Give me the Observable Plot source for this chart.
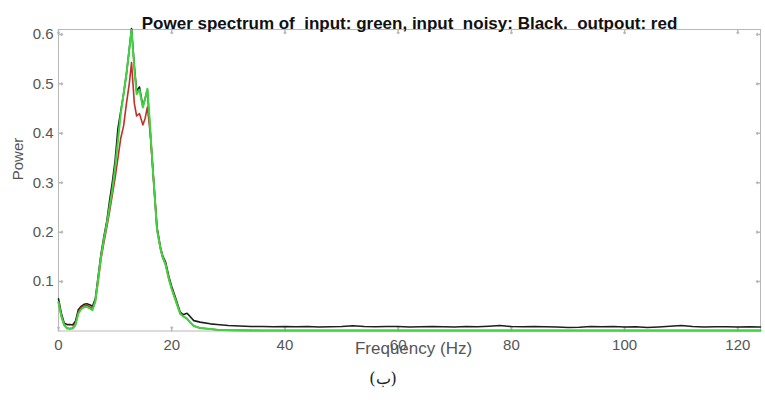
<!DOCTYPE html>
<html>
<head>
<meta charset="utf-8">
<script src="https://cdn.jsdelivr.net/npm/d3@7"></script>
<script src="https://cdn.jsdelivr.net/npm/@observablehq/plot@0.6"></script>
<style>
  body { margin: 0; background: #fff; }
  #wrap { position: relative; width: 765px; height: 407px; }
  #cap { position: absolute; top: 369px; left: 383px; transform: translateX(-50%); font-family: "DejaVu Serif", serif; font-size: 16px; color: #222; }
</style>
</head>
<body>
<div id="wrap"><div id="chart"></div><div id="cap" dir="rtl">(ب)</div></div>
<script>
const titleText = "Power spectrum of  input: green, input  noisy: Black.  outpout: red";
const xLabel = "Frequency (Hz)";
const yLabel = "Power";
const xTicks = [0, 20, 40, 60, 80, 100, 120];
const yTicks = [0.1, 0.2, 0.3, 0.4, 0.5, 0.6];

const freqHead = [0,0.5,1,1.5,2,2.5,3,3.5,4,4.5,5,5.5,6,6.5,7,7.5,8,8.5,9,9.5,10,10.5,11,11.5,12,12.5,12.9,13.4,13.8,14.3,14.9,15.3,15.7,16.2,16.7,17.4,18,18.4,18.9,19.5,20,20.6,21.5,22,22.7,23.2,23.9,25,26.8,28];
const freqTail = [30,32,34,36,38,40,42,44,46,48,50,52,54,56,58,60,62,64,66,68,70,72,74,76,78,80,82,84,86,88,90,92,94,96,98,100,102,104,106,108,110,112,114,116,118,120,122,124];
const freqs = freqHead.concat(freqTail);

// input (green)
const inputPower = [0.058,0.03,0.012,0.005,0.004,0.005,0.012,0.035,0.044,0.048,0.049,0.046,0.042,0.06,0.105,0.15,0.185,0.215,0.25,0.285,0.33,0.385,0.44,0.48,0.52,0.57,0.609,0.53,0.479,0.488,0.452,0.47,0.49,0.41,0.32,0.205,0.168,0.15,0.135,0.105,0.085,0.065,0.035,0.03,0.025,0.018,0.01,0.006,0.004,0.0025,
  0.0015,0.0013,0.0012,0.0011,0.001,0.001,0.001,0.001,0.001,0.001,0.001,0.001,0.001,0.001,0.001,0.001,0.001,0.001,0.001,0.001,0.001,0.001,0.001,0.001,0.001,0.001,0.001,0.001,0.001,0.001,0.001,0.001,0.001,0.001,0.001,0.001,0.001,0.001,0.001,0.001,0.001,0.001,0.001,0.001,0.001,0.001,0.001,0.001];
// output (red)
const outputPower = [0.058,0.03,0.012,0.006,0.005,0.006,0.014,0.038,0.047,0.051,0.052,0.049,0.045,0.06,0.1,0.145,0.178,0.208,0.24,0.275,0.31,0.35,0.39,0.415,0.46,0.5,0.543,0.46,0.435,0.44,0.417,0.43,0.453,0.4,0.32,0.205,0.166,0.148,0.135,0.105,0.085,0.065,0.035,0.03,0.025,0.018,0.01,0.006,0.004,0.0025,
  0.0015,0.0013,0.0012,0.0011,0.001,0.001,0.001,0.001,0.001,0.001,0.001,0.001,0.001,0.001,0.001,0.001,0.001,0.001,0.001,0.001,0.001,0.001,0.001,0.001,0.001,0.001,0.001,0.001,0.001,0.001,0.001,0.001,0.001,0.001,0.001,0.001,0.001,0.001,0.001,0.001,0.001,0.001,0.001,0.001,0.001,0.001,0.001,0.001];
// noisy input (black)
const noisyPower = [0.065,0.036,0.016,0.013,0.013,0.012,0.02,0.043,0.05,0.054,0.055,0.053,0.05,0.065,0.11,0.155,0.19,0.22,0.262,0.3,0.345,0.41,0.445,0.48,0.52,0.57,0.612,0.535,0.485,0.494,0.455,0.47,0.488,0.405,0.322,0.21,0.17,0.152,0.14,0.11,0.09,0.07,0.038,0.033,0.036,0.03,0.021,0.018,0.0145,0.013,
  0.011,0.010,0.009,0.009,0.0085,0.009,0.0085,0.009,0.008,0.0085,0.009,0.0105,0.009,0.0085,0.009,0.009,0.008,0.0085,0.009,0.0085,0.008,0.009,0.0085,0.0095,0.011,0.009,0.0085,0.009,0.0085,0.008,0.007,0.0075,0.009,0.0085,0.009,0.008,0.0085,0.007,0.008,0.0095,0.011,0.009,0.008,0.0085,0.0085,0.008,0.0085,0.008];

const mk = (vals) => freqs.map((f, i) => ({f, p: vals[i]}));
const axisColor = "#b8b8b8";
const labelColor = "#555";

const chart = Plot.plot({
  width: 765,
  height: 365,
  marginTop: 29,
  marginBottom: 34.5,
  marginLeft: 58,
  marginRight: 5,
  style: {fontFamily: "Liberation Sans, Arial, sans-serif", background: "#fff"},
  x: {domain: [0, 124], ticks: xTicks},
  y: {domain: [0, 0.61], ticks: yTicks},
  marks: [
    Plot.frame({stroke: axisColor}),
    Plot.vectorX(xTicks, {x: d => d, frameAnchor: "bottom", length: 4, rotate: 0, anchor: "start", stroke: axisColor}),
    Plot.vectorX(xTicks, {x: d => d, frameAnchor: "top", length: 4, rotate: 180, anchor: "start", stroke: axisColor}),
    Plot.vectorY(yTicks, {y: d => d, frameAnchor: "left", length: 4, rotate: 90, anchor: "start", stroke: axisColor}),
    Plot.vectorY(yTicks, {y: d => d, frameAnchor: "right", length: 4, rotate: -90, anchor: "start", stroke: axisColor}),
    Plot.axisX({ticks: xTicks, tickSize: 0, tickPadding: 8, tickFormat: d3.format("d"), fontSize: 15, fill: labelColor, label: null}),
    Plot.axisY({ticks: yTicks, tickSize: 0, tickPadding: 5, tickFormat: d3.format(".1f"), fontSize: 15, fill: labelColor, label: null}),
    Plot.line(mk(noisyPower), {x: "f", y: "p", stroke: "#1e1e1e", strokeWidth: 1.6}),
    Plot.line(mk(outputPower), {x: "f", y: "p", stroke: "#c0302a", strokeWidth: 1.6}),
    Plot.line(mk(inputPower), {x: "f", y: "p", stroke: "#3fd43f", strokeWidth: 2}),
    Plot.text([titleText], {frameAnchor: "top", dy: -13, fontSize: 17, fontWeight: "bold", fill: "#111"}),
    Plot.text([xLabel], {frameAnchor: "bottom", dx: 4, dy: 23, fontSize: 17, fill: labelColor}),
    Plot.text([yLabel], {frameAnchor: "left", dx: -40, rotate: -90, fontSize: 15, fill: labelColor})
  ]
});
document.getElementById("chart").appendChild(chart);
</script>
</body>
</html>
